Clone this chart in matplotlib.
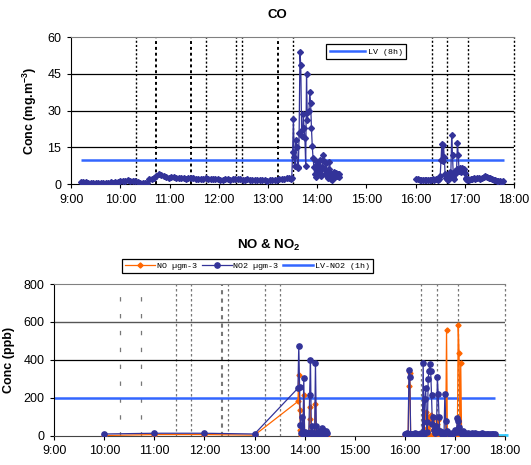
import numpy as np
import matplotlib
matplotlib.use("Agg")
import matplotlib.pyplot as plt
from matplotlib.lines import Line2D

plt.rcParams['font.family'] = ['Liberation Sans', 'DejaVu Sans']
plt.rcParams['mathtext.fontset'] = 'custom'
plt.rcParams['mathtext.rm'] = 'Liberation Sans'
plt.rcParams['mathtext.bf'] = 'Liberation Sans:bold'


def hours(start, step_min, n):
    # regular logger timestamps, start "HH:MM", step in minutes
    h, m = start.split(":")
    t0 = int(h) + int(m) / 60.0
    return t0 + np.arange(n) * step_min / 60.0


def hm(labels):
    return np.array([int(s.split(":")[0]) + int(s.split(":")[1]) / 60.0 for s in labels])


# ---------------- CO data (mg/m3) ----------------
co_a = [1.0, 0.9, 0.7, 0.6, 0.5, 0.4, 0.3, 0.3, 0.3, 0.4, 0.3, 0.5, 0.9, 0.6,
        0.8, 1.0, 1.3, 1.2, 1.4, 1.5, 1.3, 1.4, 1.2, 0.8, 0.6, 0.5, 0.4, 0.3]
co_b = [2.0, 2.2, 2.6, 3.2, 4.3, 3.8, 3.2, 2.8, 2.6, 3.0, 3.1, 2.7, 2.5, 2.6,
        2.4, 2.3, 2.5, 2.6, 2.4, 2.2, 2.0, 2.3, 2.1, 2.4, 2.2, 2.0, 2.1, 1.9,
        2.0, 1.8, 1.7, 1.9, 2.0, 1.8, 2.1, 2.2, 2.0, 1.9, 1.7, 1.8, 1.9, 1.7,
        1.6, 1.8, 1.7, 1.6, 1.5, 1.6, 1.4, 1.5, 1.6, 1.7, 1.8, 1.9, 2.0, 2.3,
        2.6, 2.4]
co_c = [2.3, 2.5, 13.0, 26.5, 11.0, 7.5, 18.0, 15.0, 7.0, 6.5, 21.0, 54.0,
        48.5, 22.0, 19.5, 28.5, 23.0, 19.0, 7.5, 45.0, 26.0, 29.5, 30.0, 37.5,
        33.0, 23.0, 15.5, 10.5, 7.0, 4.0, 9.5, 3.0, 6.0, 8.0, 4.5, 10.0, 5.5,
        3.5, 7.0, 12.0, 9.5, 6.0, 4.0, 8.5, 5.0, 2.5, 6.0, 9.0, 4.5, 2.0, 1.5,
        3.5, 5.0, 4.0, 3.0, 4.5, 3.5, 4.2, 3.0, 4.0]
co_d = [2.0, 1.9, 1.8, 1.7, 1.8, 1.6, 1.7, 1.8, 1.6, 1.7, 1.9, 1.8, 2.0, 1.8, 2.2]
co_e = [3.5, 10.0, 16.5, 9.5, 16.0, 11.0, 4.0, 2.5, 2.0, 1.5, 2.0, 3.0, 5.0,
        4.5, 20.0, 12.0, 3.0, 2.0, 5.5, 4.5, 6.0, 17.0, 12.0, 5.5, 6.5, 5.0,
        6.5, 6.0, 5.5, 6.0, 4.5, 2.5, 2.0, 1.5, 2.0, 1.8]
co_f = [2.0, 2.3, 2.5, 2.2, 2.6, 2.4, 2.1, 2.5, 2.8, 3.2, 3.0, 2.7, 2.4, 2.0,
        1.7, 1.5, 1.3, 1.2, 1.1, 1.0, 1.2]

co_segments = [
    (hours("9:12", 3, len(co_a)), co_a),
    (hours("10:35", 3, len(co_b)), co_b),
    (hours("13:28", 1, len(co_c)), co_c),
    (hours("16:01", 2, len(co_d)), co_d),
    (hours("16:30", 1, len(co_e)), co_e),
    (hours("17:07", 2, len(co_f)), co_f),
]
co_lv = 10
co_lv_span = (9.2, 17.8)

# ---------------- NO / NO2 data ----------------
nox_times_1 = ["10:00", "11:00", "12:00", "13:00", "13:52", "13:53", "13:54",
               "13:55", "13:56", "13:57", "13:58", "13:59", "14:00", "14:01",
               "14:02", "14:03", "14:04", "14:05", "14:06", "14:07", "14:08",
               "14:09", "14:10", "14:11", "14:12", "14:13", "14:14", "14:15",
               "14:16", "14:17", "14:18", "14:19", "14:20", "14:21", "14:22",
               "14:23", "14:24", "14:25", "14:26", "14:27"]
no2_1 = [8, 12, 12, 8, 250, 475, 255, 55, 15, 100, 10, 305, 15, 20, 5, 10, 15,
         10, 215, 400, 20, 50, 10, 5, 15, 385, 50, 10, 20, 5, 15, 25, 10, 40,
         30, 15, 20, 10, 25, 12]
no_1 = [0, 5, 5, 2, 180, 320, 135, 30, 5, 20, 0, 215, 10, 5, 0, 5, 0, 5, 85,
        150, 10, 5, 0, 5, 5, 165, 10, 0, 5, 0, 5, 8, 0, 10, 5, 0, 5, 0, 3, 0]

nox_times_2 = ["16:00", "16:01", "16:02", "16:03", "16:04", "16:05", "16:06",
               "16:07", "16:08", "16:10", "16:12", "16:14", "16:16", "16:18",
               "16:20", "16:21", "16:22", "16:23", "16:24", "16:25", "16:26",
               "16:27", "16:28", "16:29", "16:30", "16:31", "16:32", "16:33",
               "16:34", "16:35", "16:36", "16:37", "16:38", "16:39", "16:40",
               "16:41", "16:42", "16:43", "16:44", "16:45", "16:46", "16:47",
               "16:48", "16:49", "16:50", "16:51", "16:52", "16:54", "16:56",
               "16:58", "17:00", "17:02", "17:03", "17:04", "17:05", "17:06",
               "17:07", "17:08", "17:10", "17:12", "17:14", "17:16", "17:18",
               "17:20", "17:22", "17:24", "17:26", "17:28", "17:30", "17:32",
               "17:34", "17:36", "17:38", "17:40", "17:42", "17:44", "17:46",
               "17:48"]
no2_2 = [10, 8, 10, 12, 10, 345, 310, 10, 8, 10, 12, 10, 8, 10, 12, 10, 385,
         10, 195, 250, 70, 20, 300, 340, 380, 340, 215, 60, 100, 30, 15, 50, 20,
         310, 220, 100, 25, 15, 10, 20, 15, 10, 220, 75, 20, 25, 15, 10, 15, 10,
         30, 20, 95, 75, 45, 20, 15, 10, 25, 15, 10, 12, 10, 15, 10, 12, 10, 8,
         10, 12, 10, 8, 10, 8, 10, 8, 10, 8]
no_2 = [0, 2, 0, 3, 5, 262, 330, 5, 0, 2, 0, 3, 0, 2, 0, 5, 10, 0, 75, 125,
        80, 40, 100, 90, 5, 110, 75, 60, 30, 10, 0, 20, 5, 60, 80, 30, 5, 0, 5,
        0, 10, 0, 5, 15, 558, 5, 0, 5, 0, 5, 10, 5, 30, 585, 438, 20, 385, 10,
        5, 0, 5, 3, 0, 5, 2, 0, 4, 2, 0, 3, 5, 2, 0, 3, 2, 0, 4, 2]

nox_lv = 200
nox_lv_span = (9.0, 17.8)
extra_span = (16.95, 18.07)

event_times = [10.32, 10.73, 11.44, 11.74, 12.36, 12.47, 13.2, 13.51,
               16.33, 16.64, 17.07]
hour_ticks = list(range(9, 19))
hour_labels = ["%d:00" % h for h in hour_ticks]

navy = "#333399"
orange = "#FF6600"
lv_blue = "#3366FF"

fig = plt.figure(figsize=(5.31, 4.65), dpi=100)

# ---------------- top: CO ----------------
ax1 = fig.add_axes([0.134, 0.604, 0.834, 0.316])
for t in event_times:
    lw = 1.4 if t in (10.73, 11.44, 13.2) else 1.0
    ax1.axvline(t, color="k", lw=lw, ls=(0, (1.5, 1.5)), zorder=1)
ax1.axvline(18, color="k", lw=1.0, ls=(0, (1.5, 1.5)), clip_on=False, zorder=1)
for y in [15, 30, 45]:
    ax1.axhline(y, color="k", lw=0.9, zorder=1)
ax1.hlines(co_lv, *co_lv_span, color=lv_blue, lw=1.8, zorder=2)
for tt, vv in co_segments:
    ax1.plot(tt, vv, color=navy, lw=0.9, marker="D", ms=3.0, mec=navy,
             mfc=navy, zorder=3)
ax1.set_xlim(9, 18)
ax1.set_ylim(0, 60)
ax1.set_yticks([0, 15, 30, 45, 60])
ax1.set_xticks(hour_ticks)
ax1.set_xticklabels(hour_labels)
ax1.tick_params(labelsize=9, length=3, pad=4, direction="out")
ax1.spines["right"].set_visible(False)
ax1.spines["top"].set_color("#808080")
ax1.set_ylabel(r"Conc (mg.m$^{\mathbf{-3}}$)", fontsize=9, fontweight="bold",
               labelpad=6)
fig.text(0.523, 0.968, "CO", fontsize=9.5, fontweight="bold", ha="center",
         va="center")
leg1 = ax1.legend([Line2D([], [], color=lv_blue, lw=1.8)], ["LV (8h)"],
                  loc="center", bbox_to_anchor=(0.69, 0.889),
                  bbox_transform=fig.transFigure, frameon=True, fancybox=False,
                  edgecolor="k", framealpha=1, handlelength=4.2,
                  handletextpad=0.3, borderpad=0.45,
                  prop={"family": ["Liberation Mono", "DejaVu Sans Mono"],
                        "size": 6})
leg1.get_frame().set_linewidth(0.9)

# ---------------- bottom: NO & NO2 ----------------
ax2 = fig.add_axes([0.102, 0.0634, 0.849, 0.3258])
for i, t in enumerate(event_times):
    if i < 2:
        ls = (0, (3.5, 10))
    else:
        ls = (0, (2, 2))
    lw = 1.5 if t == 12.36 else 0.9
    ax2.axvline(t, color="#777777", lw=lw, ls=ls, zorder=1)
ax2.axvline(18, color="#777777", lw=0.9, ls=(0, (2, 2)), clip_on=False,
            zorder=1)
ax2.axhline(600, color="#555555", lw=1.0, zorder=1)
ax2.axhline(400, color="k", lw=0.9, zorder=1)
ax2.hlines(nox_lv, *nox_lv_span, color=lv_blue, lw=1.8, zorder=2)
ax2.hlines(2, *extra_span, color="#33CCFF", lw=2.0, clip_on=False, zorder=2)

for times, no_v, no2_v in [(nox_times_1, no_1, no2_1),
                           (nox_times_2, no_2, no2_2)]:
    t = hm(times)
    ax2.plot(t, no_v, color=orange, lw=0.9, marker="D", ms=2.6, mec=orange,
             mfc=orange, zorder=3)
    ax2.plot(t, no2_v, color=navy, lw=0.9, marker="o", ms=3.8, mec=navy,
             mfc=navy, zorder=4)

ax2.set_xlim(9, 18)
ax2.set_ylim(0, 800)
ax2.set_yticks([0, 200, 400, 600, 800])
ax2.set_xticks(hour_ticks)
ax2.set_xticklabels(hour_labels)
ax2.tick_params(labelsize=9, length=3, pad=4, direction="out")
ax2.spines["right"].set_visible(False)
ax2.spines["top"].set_color("#808080")
ax2.spines["bottom"].set_color("#444444")
ax2.set_ylabel("Conc (ppb)", fontsize=9, fontweight="bold", labelpad=6)
fig.text(0.506, 0.472, r"NO & NO$_{\mathbf{2}}$", fontsize=9.5,
         fontweight="bold", ha="center", va="center")

handles = [Line2D([], [], color=orange, lw=0.9, marker="D", ms=2.6),
           Line2D([], [], color=navy, lw=0.9, marker="o", ms=3.8),
           Line2D([], [], color=lv_blue, lw=1.8)]
leg2 = fig.legend(handles, ["NO µgm-3", "NO2 µgm-3", "LV-NO2 (1h)"],
                  loc="center", bbox_to_anchor=(0.466, 0.428), ncol=3,
                  frameon=True, fancybox=False, edgecolor="k", framealpha=1,
                  handlelength=3.6, handletextpad=0.2, columnspacing=0.6,
                  borderpad=0.35,
                  prop={"family": ["Liberation Mono", "DejaVu Sans Mono"],
                        "size": 6})
leg2.get_frame().set_linewidth(0.9)

fig.savefig("out.png", dpi=100)
